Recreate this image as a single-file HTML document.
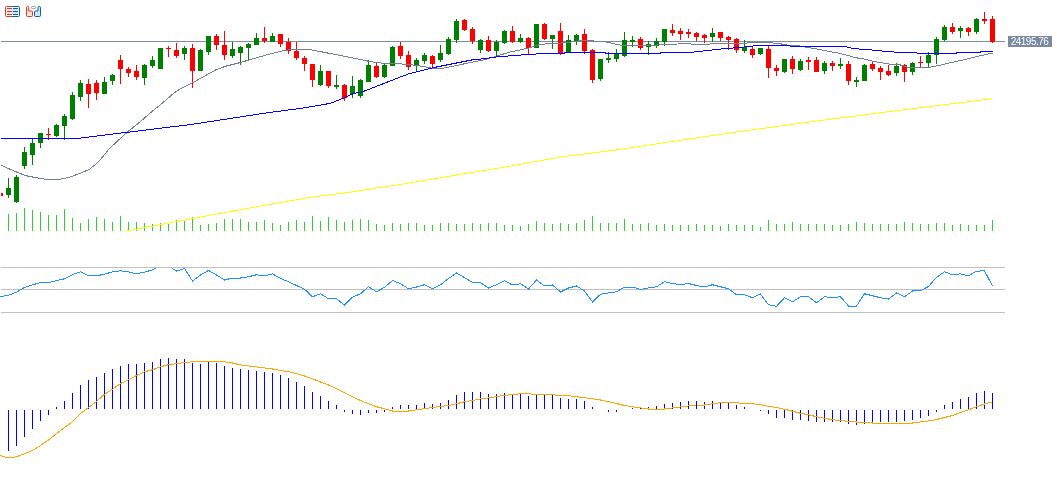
<!DOCTYPE html>
<html><head><meta charset="utf-8"><title>Chart</title>
<style>
html,body{margin:0;padding:0;background:#fff;}
body{width:1057px;height:484px;overflow:hidden;position:relative;font-family:"Liberation Sans",sans-serif;}
svg{position:absolute;left:0;top:0;display:block}
.lbl{position:absolute;left:1008px;top:36px;width:44px;height:11px;background:#7b8a9f;color:#fff;font-size:10px;line-height:11px;text-align:center;letter-spacing:-0.5px;box-sizing:border-box;padding-right:1px;white-space:nowrap;overflow:hidden}
</style></head><body>
<svg width="1057" height="484" viewBox="0 0 1057 484">
<rect x="1" y="41" width="1004" height="1" fill="#7f8da1" shape-rendering="crispEdges"/>
<g fill="#c0c0c0" shape-rendering="crispEdges"><rect x="1" y="267" width="1004" height="1"/><rect x="1" y="289" width="1004" height="1"/><rect x="1" y="312" width="1004" height="1"/></g>
<g fill="#32cd32" shape-rendering="crispEdges"><rect x="8" y="214" width="1" height="17"/><rect x="16" y="213" width="1" height="18"/><rect x="24" y="208" width="1" height="23"/><rect x="32" y="210" width="1" height="21"/><rect x="40" y="212" width="1" height="19"/><rect x="48" y="215" width="1" height="16"/><rect x="56" y="215" width="1" height="16"/><rect x="64" y="209" width="1" height="22"/><rect x="72" y="218" width="1" height="13"/><rect x="80" y="223" width="1" height="8"/><rect x="88" y="219" width="1" height="12"/><rect x="96" y="217" width="1" height="14"/><rect x="104" y="219" width="1" height="12"/><rect x="112" y="222" width="1" height="9"/><rect x="120" y="216" width="1" height="15"/><rect x="128" y="222" width="1" height="9"/><rect x="136" y="222" width="1" height="9"/><rect x="144" y="223" width="1" height="8"/><rect x="152" y="224" width="1" height="7"/><rect x="160" y="223" width="1" height="8"/><rect x="168" y="223" width="1" height="8"/><rect x="176" y="220" width="1" height="11"/><rect x="184" y="220" width="1" height="11"/><rect x="192" y="217" width="1" height="14"/><rect x="200" y="225" width="1" height="6"/><rect x="208" y="224" width="1" height="7"/><rect x="216" y="223" width="1" height="8"/><rect x="224" y="219" width="1" height="12"/><rect x="232" y="219" width="1" height="12"/><rect x="240" y="219" width="1" height="12"/><rect x="248" y="222" width="1" height="9"/><rect x="256" y="222" width="1" height="9"/><rect x="264" y="220" width="1" height="11"/><rect x="272" y="223" width="1" height="8"/><rect x="280" y="225" width="1" height="6"/><rect x="288" y="222" width="1" height="9"/><rect x="296" y="220" width="1" height="11"/><rect x="304" y="222" width="1" height="9"/><rect x="312" y="216" width="1" height="15"/><rect x="320" y="221" width="1" height="10"/><rect x="328" y="217" width="1" height="14"/><rect x="336" y="220" width="1" height="11"/><rect x="344" y="222" width="1" height="9"/><rect x="352" y="220" width="1" height="11"/><rect x="360" y="219" width="1" height="12"/><rect x="368" y="220" width="1" height="11"/><rect x="376" y="224" width="1" height="7"/><rect x="384" y="225" width="1" height="6"/><rect x="392" y="223" width="1" height="8"/><rect x="400" y="224" width="1" height="7"/><rect x="408" y="223" width="1" height="8"/><rect x="416" y="223" width="1" height="8"/><rect x="424" y="225" width="1" height="6"/><rect x="432" y="225" width="1" height="6"/><rect x="440" y="223" width="1" height="8"/><rect x="448" y="223" width="1" height="8"/><rect x="456" y="224" width="1" height="7"/><rect x="464" y="224" width="1" height="7"/><rect x="472" y="223" width="1" height="8"/><rect x="480" y="224" width="1" height="7"/><rect x="488" y="223" width="1" height="8"/><rect x="496" y="223" width="1" height="8"/><rect x="504" y="225" width="1" height="6"/><rect x="512" y="225" width="1" height="6"/><rect x="520" y="226" width="1" height="5"/><rect x="528" y="224" width="1" height="7"/><rect x="536" y="221" width="1" height="10"/><rect x="544" y="223" width="1" height="8"/><rect x="552" y="224" width="1" height="7"/><rect x="560" y="223" width="1" height="8"/><rect x="568" y="224" width="1" height="7"/><rect x="576" y="223" width="1" height="8"/><rect x="584" y="220" width="1" height="11"/><rect x="592" y="216" width="1" height="15"/><rect x="600" y="223" width="1" height="8"/><rect x="608" y="223" width="1" height="8"/><rect x="616" y="223" width="1" height="8"/><rect x="624" y="219" width="1" height="12"/><rect x="632" y="224" width="1" height="7"/><rect x="640" y="224" width="1" height="7"/><rect x="648" y="223" width="1" height="8"/><rect x="656" y="225" width="1" height="6"/><rect x="664" y="224" width="1" height="7"/><rect x="672" y="225" width="1" height="6"/><rect x="680" y="225" width="1" height="6"/><rect x="688" y="225" width="1" height="6"/><rect x="696" y="224" width="1" height="7"/><rect x="704" y="225" width="1" height="6"/><rect x="712" y="225" width="1" height="6"/><rect x="720" y="226" width="1" height="5"/><rect x="728" y="224" width="1" height="7"/><rect x="736" y="225" width="1" height="6"/><rect x="744" y="225" width="1" height="6"/><rect x="752" y="225" width="1" height="6"/><rect x="760" y="227" width="1" height="4"/><rect x="768" y="220" width="1" height="11"/><rect x="776" y="224" width="1" height="7"/><rect x="784" y="224" width="1" height="7"/><rect x="792" y="222" width="1" height="9"/><rect x="800" y="224" width="1" height="7"/><rect x="808" y="224" width="1" height="7"/><rect x="816" y="224" width="1" height="7"/><rect x="824" y="224" width="1" height="7"/><rect x="832" y="225" width="1" height="6"/><rect x="840" y="225" width="1" height="6"/><rect x="848" y="224" width="1" height="7"/><rect x="856" y="222" width="1" height="9"/><rect x="864" y="223" width="1" height="8"/><rect x="872" y="224" width="1" height="7"/><rect x="880" y="224" width="1" height="7"/><rect x="888" y="224" width="1" height="7"/><rect x="896" y="224" width="1" height="7"/><rect x="904" y="222" width="1" height="9"/><rect x="912" y="223" width="1" height="8"/><rect x="920" y="224" width="1" height="7"/><rect x="928" y="224" width="1" height="7"/><rect x="936" y="223" width="1" height="8"/><rect x="944" y="223" width="1" height="8"/><rect x="952" y="225" width="1" height="6"/><rect x="960" y="224" width="1" height="7"/><rect x="968" y="225" width="1" height="6"/><rect x="976" y="225" width="1" height="6"/><rect x="984" y="225" width="1" height="6"/><rect x="992" y="220" width="1" height="11"/></g>
<g fill="#008000" shape-rendering="crispEdges"><rect x="8" y="178" width="1" height="20"/><rect x="6" y="188" width="5" height="7"/><rect x="16" y="175" width="1" height="28"/><rect x="14" y="177" width="5" height="25"/><rect x="24" y="147" width="1" height="22"/><rect x="22" y="152" width="5" height="14"/><rect x="32" y="139" width="1" height="26"/><rect x="30" y="143" width="5" height="12"/><rect x="40" y="133" width="1" height="15"/><rect x="38" y="133" width="5" height="10"/><rect x="56" y="124" width="1" height="13"/><rect x="54" y="125" width="5" height="11"/><rect x="64" y="114" width="1" height="26"/><rect x="62" y="116" width="5" height="10"/><rect x="72" y="92" width="1" height="28"/><rect x="70" y="95" width="5" height="24"/><rect x="80" y="80" width="1" height="21"/><rect x="78" y="83" width="5" height="14"/><rect x="104" y="77" width="1" height="17"/><rect x="102" y="82" width="5" height="12"/><rect x="112" y="74" width="1" height="11"/><rect x="110" y="75" width="5" height="6"/><rect x="144" y="64" width="1" height="21"/><rect x="142" y="65" width="5" height="13"/><rect x="152" y="56" width="1" height="12"/><rect x="150" y="60" width="5" height="6"/><rect x="158" y="48" width="5" height="21"/><rect x="184" y="46" width="1" height="14"/><rect x="182" y="48" width="5" height="6"/><rect x="200" y="49" width="1" height="22"/><rect x="198" y="50" width="5" height="21"/><rect x="208" y="36" width="1" height="19"/><rect x="206" y="36" width="5" height="16"/><rect x="232" y="42" width="1" height="16"/><rect x="230" y="49" width="5" height="7"/><rect x="240" y="46" width="1" height="19"/><rect x="238" y="47" width="5" height="6"/><rect x="248" y="43" width="1" height="18"/><rect x="246" y="44" width="5" height="4"/><rect x="256" y="33" width="1" height="12"/><rect x="254" y="38" width="5" height="7"/><rect x="272" y="33" width="1" height="9"/><rect x="270" y="36" width="5" height="6"/><rect x="320" y="65" width="1" height="21"/><rect x="318" y="71" width="5" height="14"/><rect x="336" y="75" width="1" height="14"/><rect x="334" y="85" width="5" height="2"/><rect x="352" y="76" width="1" height="22"/><rect x="350" y="86" width="5" height="8"/><rect x="360" y="79" width="1" height="19"/><rect x="358" y="80" width="5" height="16"/><rect x="368" y="60" width="1" height="22"/><rect x="366" y="65" width="5" height="17"/><rect x="384" y="64" width="1" height="14"/><rect x="382" y="65" width="5" height="12"/><rect x="392" y="46" width="1" height="20"/><rect x="390" y="47" width="5" height="19"/><rect x="416" y="58" width="1" height="13"/><rect x="414" y="60" width="5" height="6"/><rect x="424" y="53" width="1" height="11"/><rect x="422" y="55" width="5" height="6"/><rect x="440" y="45" width="1" height="17"/><rect x="438" y="53" width="5" height="7"/><rect x="448" y="37" width="1" height="18"/><rect x="446" y="39" width="5" height="15"/><rect x="456" y="19" width="1" height="24"/><rect x="454" y="21" width="5" height="19"/><rect x="480" y="39" width="1" height="14"/><rect x="478" y="40" width="5" height="10"/><rect x="496" y="40" width="1" height="17"/><rect x="494" y="42" width="5" height="9"/><rect x="504" y="30" width="1" height="14"/><rect x="502" y="31" width="5" height="12"/><rect x="520" y="34" width="1" height="9"/><rect x="518" y="38" width="5" height="4"/><rect x="534" y="24" width="5" height="24"/><rect x="552" y="35" width="1" height="14"/><rect x="550" y="35" width="5" height="4"/><rect x="568" y="35" width="1" height="18"/><rect x="566" y="40" width="5" height="13"/><rect x="576" y="34" width="1" height="11"/><rect x="574" y="35" width="5" height="6"/><rect x="600" y="59" width="1" height="22"/><rect x="598" y="59" width="5" height="20"/><rect x="608" y="52" width="1" height="11"/><rect x="606" y="58" width="5" height="2"/><rect x="616" y="49" width="1" height="13"/><rect x="614" y="54" width="5" height="5"/><rect x="624" y="32" width="1" height="25"/><rect x="622" y="40" width="5" height="16"/><rect x="632" y="36" width="1" height="11"/><rect x="630" y="40" width="5" height="2"/><rect x="648" y="41" width="1" height="14"/><rect x="646" y="44" width="5" height="3"/><rect x="656" y="38" width="1" height="10"/><rect x="654" y="41" width="5" height="5"/><rect x="664" y="29" width="1" height="17"/><rect x="662" y="29" width="5" height="13"/><rect x="712" y="28" width="1" height="14"/><rect x="710" y="33" width="5" height="4"/><rect x="744" y="40" width="1" height="13"/><rect x="742" y="47" width="5" height="4"/><rect x="760" y="48" width="1" height="7"/><rect x="758" y="48" width="5" height="6"/><rect x="784" y="59" width="1" height="14"/><rect x="782" y="59" width="5" height="13"/><rect x="800" y="59" width="1" height="12"/><rect x="798" y="61" width="5" height="9"/><rect x="824" y="61" width="1" height="13"/><rect x="822" y="63" width="5" height="8"/><rect x="840" y="58" width="1" height="11"/><rect x="838" y="64" width="5" height="2"/><rect x="856" y="77" width="1" height="10"/><rect x="854" y="80" width="5" height="2"/><rect x="864" y="64" width="1" height="17"/><rect x="862" y="65" width="5" height="16"/><rect x="896" y="63" width="1" height="13"/><rect x="894" y="66" width="5" height="7"/><rect x="912" y="62" width="1" height="13"/><rect x="910" y="63" width="5" height="9"/><rect x="928" y="52" width="1" height="15"/><rect x="926" y="55" width="5" height="8"/><rect x="936" y="37" width="1" height="27"/><rect x="934" y="39" width="5" height="16"/><rect x="944" y="25" width="1" height="16"/><rect x="942" y="27" width="5" height="13"/><rect x="960" y="26" width="1" height="12"/><rect x="958" y="28" width="5" height="3"/><rect x="976" y="18" width="1" height="16"/><rect x="974" y="19" width="5" height="13"/></g>
<g fill="#ff0000" shape-rendering="crispEdges"><rect x="1" y="193" width="2" height="3"/><rect x="48" y="128" width="1" height="12"/><rect x="46" y="134" width="5" height="1"/><rect x="88" y="79" width="1" height="29"/><rect x="86" y="84" width="5" height="10"/><rect x="96" y="80" width="1" height="20"/><rect x="94" y="83" width="5" height="10"/><rect x="120" y="55" width="1" height="29"/><rect x="118" y="60" width="5" height="9"/><rect x="128" y="67" width="1" height="10"/><rect x="126" y="69" width="5" height="4"/><rect x="136" y="65" width="1" height="15"/><rect x="134" y="71" width="5" height="6"/><rect x="168" y="46" width="1" height="11"/><rect x="166" y="48" width="5" height="1"/><rect x="176" y="43" width="1" height="15"/><rect x="174" y="50" width="5" height="6"/><rect x="192" y="44" width="1" height="44"/><rect x="190" y="48" width="5" height="23"/><rect x="216" y="34" width="1" height="16"/><rect x="214" y="36" width="5" height="9"/><rect x="224" y="31" width="1" height="29"/><rect x="222" y="45" width="5" height="10"/><rect x="264" y="27" width="1" height="16"/><rect x="262" y="38" width="5" height="3"/><rect x="280" y="34" width="1" height="13"/><rect x="278" y="34" width="5" height="10"/><rect x="288" y="38" width="1" height="16"/><rect x="286" y="42" width="5" height="9"/><rect x="296" y="42" width="1" height="18"/><rect x="294" y="51" width="5" height="7"/><rect x="304" y="56" width="1" height="15"/><rect x="302" y="58" width="5" height="6"/><rect x="312" y="64" width="1" height="23"/><rect x="310" y="64" width="5" height="16"/><rect x="328" y="71" width="1" height="17"/><rect x="326" y="71" width="5" height="15"/><rect x="344" y="84" width="1" height="17"/><rect x="342" y="85" width="5" height="13"/><rect x="376" y="63" width="1" height="15"/><rect x="374" y="66" width="5" height="11"/><rect x="400" y="42" width="1" height="17"/><rect x="398" y="46" width="5" height="10"/><rect x="408" y="51" width="1" height="19"/><rect x="406" y="55" width="5" height="12"/><rect x="432" y="55" width="1" height="12"/><rect x="430" y="56" width="5" height="8"/><rect x="464" y="19" width="1" height="12"/><rect x="462" y="20" width="5" height="10"/><rect x="472" y="27" width="1" height="17"/><rect x="470" y="29" width="5" height="12"/><rect x="488" y="36" width="1" height="16"/><rect x="486" y="40" width="5" height="11"/><rect x="512" y="26" width="1" height="17"/><rect x="510" y="31" width="5" height="11"/><rect x="528" y="37" width="1" height="18"/><rect x="526" y="38" width="5" height="10"/><rect x="544" y="23" width="1" height="17"/><rect x="542" y="24" width="5" height="15"/><rect x="560" y="23" width="1" height="32"/><rect x="558" y="31" width="5" height="22"/><rect x="584" y="29" width="1" height="25"/><rect x="582" y="34" width="5" height="17"/><rect x="592" y="49" width="1" height="34"/><rect x="590" y="50" width="5" height="30"/><rect x="640" y="37" width="1" height="13"/><rect x="638" y="39" width="5" height="9"/><rect x="672" y="24" width="1" height="12"/><rect x="670" y="30" width="5" height="3"/><rect x="680" y="28" width="1" height="12"/><rect x="678" y="31" width="5" height="3"/><rect x="688" y="29" width="1" height="9"/><rect x="686" y="32" width="5" height="2"/><rect x="696" y="32" width="1" height="9"/><rect x="694" y="33" width="5" height="4"/><rect x="704" y="34" width="1" height="9"/><rect x="702" y="35" width="5" height="3"/><rect x="720" y="32" width="1" height="9"/><rect x="718" y="32" width="5" height="6"/><rect x="728" y="36" width="1" height="14"/><rect x="726" y="37" width="5" height="3"/><rect x="736" y="38" width="1" height="15"/><rect x="734" y="39" width="5" height="11"/><rect x="752" y="46" width="1" height="12"/><rect x="750" y="49" width="5" height="6"/><rect x="768" y="46" width="1" height="32"/><rect x="766" y="49" width="5" height="19"/><rect x="776" y="65" width="1" height="11"/><rect x="774" y="68" width="5" height="3"/><rect x="792" y="56" width="1" height="18"/><rect x="790" y="59" width="5" height="10"/><rect x="808" y="57" width="1" height="13"/><rect x="806" y="60" width="5" height="2"/><rect x="816" y="57" width="1" height="15"/><rect x="814" y="60" width="5" height="12"/><rect x="832" y="61" width="1" height="10"/><rect x="830" y="63" width="5" height="3"/><rect x="848" y="61" width="1" height="24"/><rect x="846" y="64" width="5" height="17"/><rect x="872" y="62" width="1" height="9"/><rect x="870" y="64" width="5" height="5"/><rect x="880" y="66" width="1" height="14"/><rect x="878" y="68" width="5" height="4"/><rect x="888" y="65" width="1" height="11"/><rect x="886" y="71" width="5" height="4"/><rect x="904" y="64" width="1" height="18"/><rect x="902" y="65" width="5" height="7"/><rect x="920" y="56" width="1" height="11"/><rect x="918" y="62" width="5" height="1"/><rect x="952" y="23" width="1" height="11"/><rect x="950" y="27" width="5" height="5"/><rect x="968" y="27" width="1" height="9"/><rect x="966" y="28" width="5" height="4"/><rect x="984" y="12" width="1" height="12"/><rect x="982" y="19" width="5" height="2"/><rect x="992" y="16" width="1" height="27"/><rect x="990" y="19" width="5" height="23"/></g>
<polyline points="125,231.25 193,218.5 256.5,206.75 306.5,198 356.5,191.25 406.5,183.5 456.5,175 506.5,166.75 562.5,156.75 612.5,150.5 662.5,143 712.5,135.5 747.5,130.5 813.5,121.5 868.5,114.25 918.5,108 968.5,101.75 992.5,98.75" fill="none" stroke="#ffff00" stroke-width="1" shape-rendering="crispEdges"/>
<polyline points="1.5,165.4 13,170.6 25.5,175.6 38,178.1 46.5,179.4 59.5,179.4 70.5,176.9 80.5,173.1 89.25,169.4 95.5,164.4 100.5,159.4 109.25,148.75 118,140.6 128,131.5 140.5,121.5 150.5,112.8 166.75,99.4 173,93.75 180.5,88.75 193,82.5 204.25,76.25 215.5,70 225.5,66.25 240.5,62.5 255.5,58.1 270.5,53.75 284.5,50.4 293.25,49.4 308.25,49.4 322,51.9 334.5,54.4 347,56.9 359.5,59.4 372,61.9 384.5,63.5 397,63.75 409,64.4 421.5,66.25 431.5,68.1 444,68.1 459,65 471.5,62.25 484,59.75 496.5,56.25 509,52.25 528.5,48.1 540.5,44.4 548,43.75 565.5,42.75 581.5,40.6 588,40.6 605.5,41.9 621.5,45.4 640.5,45.6 653,45.6 660.5,44.5 684.5,43.8 700.5,44.3 716.5,43.8 735.5,43.5 747.5,43 760.5,42.5 772.5,43 781.5,44 788.5,45.25 797.5,45.6 806,47.25 819.5,49.4 829.5,51.5 838.5,53.1 848.5,55.6 856,57.75 866,59.4 876,61.9 888.5,64 898.5,64.4 908,67.25 929.5,67.25 938,65.6 950.5,62.75 963,60 975.5,56.9 988,54 992.5,53.1" fill="none" stroke="#708090" stroke-width="1" shape-rendering="crispEdges"/>
<polyline points="0.5,138.5 76.5,138.5 192.5,124.3 264.5,113.2 305.5,107.7 330.5,103.3 343,98.3 353.5,93.5 361.75,92.1 380.5,84.8 396.5,78.5 409,73.75 421.5,70.6 434,67.5 446.5,65 459,62.5 471.5,60 484,58.75 496.5,56.9 516.5,55.3 528.5,54.5 540.5,53.7 563.5,53.5 565.5,52.5 604.5,52.5 606.5,53.5 659.5,53.5 661.5,52.5 691.5,52.25 708,50.4 716.5,49.6 725.5,48.5 740.5,47.5 748,46.5 756.5,45.6 788.5,45.6 790.5,46.25 844.5,46.25 848.5,47.5 853.5,48.5 862.5,49.4 877.5,50.4 886,51.5 901,52.5 916.5,52.8 918.5,53.5 955.5,53.5 957.5,52.5 979.5,52.5 981.5,51.5 992.5,51.5" fill="none" stroke="#0000ff" stroke-width="1" shape-rendering="crispEdges"/>
<clipPath id="rc"><rect x="0" y="268" width="1057" height="60"/></clipPath><polyline points="0.5,296.8 8.5,295.2 16.5,292.2 24.5,287.5 32.5,284.8 40.5,282.7 48.5,282.7 56.5,280.5 64.5,278.8 72.5,274.7 80.5,271.8 88.5,275.8 96.5,275.8 104.5,274.2 112.5,271.8 120.5,270.8 128.5,271.8 136.5,273.8 144.5,272.2 152.5,269.8 160.5,266 168.5,266 176.5,271 184.5,268.5 192.5,281 200.5,275 208.5,270.5 216.5,275 224.5,280 232.5,278 240.5,278 248.5,276.75 256.5,274.75 264.5,276 272.5,273.75 280.5,278.5 288.5,281.75 296.5,285.5 304.5,289.25 312.5,296.75 320.5,293.75 328.5,298.75 336.5,298.75 344.5,305 352.5,297.25 360.5,293.75 368.5,286.75 376.5,291.75 384.5,287.25 392.5,280.5 400.5,283.75 408.5,288.75 416.5,287 424.5,284.75 432.5,288.75 440.5,284.75 448.5,278.5 456.5,273 464.5,277.5 472.5,282.5 480.5,282.75 488.5,288 496.5,284.75 504.5,280.75 512.5,285 520.5,283.75 528.5,289 536.5,280 544.5,286 552.5,285 560.5,292 568.5,288 576.5,286 584.5,291 592.5,302 600.5,294.25 608.5,293 616.5,291.75 624.5,287 632.5,287 640.5,289.5 648.5,288 656.5,286.75 664.5,281.75 672.5,283.5 680.5,284.75 688.5,283.5 696.5,285.5 704.5,287 712.5,284.75 720.5,286.75 728.5,288.75 736.5,294.75 744.5,294.75 752.5,297.75 760.5,294 768.5,304.75 776.5,306.25 784.5,297.75 792.5,301.75 800.5,296.75 808.5,296.75 816.5,302.75 824.5,296.75 832.5,297.75 840.5,296.75 848.5,306 856.5,306 864.5,293.75 872.5,295.75 880.5,297.75 888.5,299.1 896.5,292.9 904.5,296.7 912.5,291 920.5,290.8 928.5,286.4 936.5,277.4 944.5,271.8 952.5,274.8 960.5,273.8 968.5,275.8 976.5,271.2 984.5,270.8 992.5,286" fill="none" stroke="#1e90ff" stroke-width="1" shape-rendering="crispEdges" clip-path="url(#rc)"/>
<g fill="#0000ff" shape-rendering="crispEdges"><rect x="8" y="410" width="1" height="41"/><rect x="16" y="410" width="1" height="36"/><rect x="24" y="410" width="1" height="27"/><rect x="32" y="410" width="1" height="19"/><rect x="40" y="410" width="1" height="11"/><rect x="48" y="410" width="1" height="5"/><rect x="56" y="407" width="1" height="2"/><rect x="64" y="401" width="1" height="8"/><rect x="72" y="393" width="1" height="16"/><rect x="80" y="385" width="1" height="24"/><rect x="88" y="380" width="1" height="29"/><rect x="96" y="377" width="1" height="32"/><rect x="104" y="373" width="1" height="36"/><rect x="112" y="369" width="1" height="40"/><rect x="120" y="366" width="1" height="43"/><rect x="128" y="364" width="1" height="45"/><rect x="136" y="364" width="1" height="45"/><rect x="144" y="363" width="1" height="46"/><rect x="152" y="362" width="1" height="47"/><rect x="160" y="359" width="1" height="50"/><rect x="168" y="358" width="1" height="51"/><rect x="176" y="359" width="1" height="50"/><rect x="184" y="359" width="1" height="50"/><rect x="192" y="363" width="1" height="46"/><rect x="200" y="364" width="1" height="45"/><rect x="208" y="362" width="1" height="47"/><rect x="216" y="363" width="1" height="46"/><rect x="224" y="366" width="1" height="43"/><rect x="232" y="368" width="1" height="41"/><rect x="240" y="369" width="1" height="40"/><rect x="248" y="370" width="1" height="39"/><rect x="256" y="371" width="1" height="38"/><rect x="264" y="372" width="1" height="37"/><rect x="272" y="373" width="1" height="36"/><rect x="280" y="375" width="1" height="34"/><rect x="288" y="378" width="1" height="31"/><rect x="296" y="382" width="1" height="27"/><rect x="304" y="386" width="1" height="23"/><rect x="312" y="392" width="1" height="17"/><rect x="320" y="396" width="1" height="13"/><rect x="328" y="401" width="1" height="8"/><rect x="336" y="405" width="1" height="4"/><rect x="344" y="410" width="1" height="2"/><rect x="352" y="410" width="1" height="4"/><rect x="360" y="410" width="1" height="5"/><rect x="368" y="410" width="1" height="3"/><rect x="376" y="410" width="1" height="3"/><rect x="384" y="410" width="1" height="2"/><rect x="392" y="407" width="1" height="2"/><rect x="400" y="405" width="1" height="4"/><rect x="408" y="405" width="1" height="4"/><rect x="416" y="405" width="1" height="4"/><rect x="424" y="403" width="1" height="6"/><rect x="432" y="404" width="1" height="5"/><rect x="440" y="403" width="1" height="6"/><rect x="448" y="400" width="1" height="9"/><rect x="456" y="395" width="1" height="14"/><rect x="464" y="392" width="1" height="17"/><rect x="472" y="392" width="1" height="17"/><rect x="480" y="392" width="1" height="17"/><rect x="488" y="394" width="1" height="15"/><rect x="496" y="394" width="1" height="15"/><rect x="504" y="393" width="1" height="16"/><rect x="512" y="394" width="1" height="15"/><rect x="520" y="394" width="1" height="15"/><rect x="528" y="396" width="1" height="13"/><rect x="536" y="395" width="1" height="14"/><rect x="544" y="395" width="1" height="14"/><rect x="552" y="395" width="1" height="14"/><rect x="560" y="398" width="1" height="11"/><rect x="568" y="399" width="1" height="10"/><rect x="576" y="399" width="1" height="10"/><rect x="584" y="401" width="1" height="8"/><rect x="592" y="407" width="1" height="2"/><rect x="608" y="410" width="1" height="2"/><rect x="616" y="410" width="1" height="2"/><rect x="632" y="408" width="1" height="1"/><rect x="640" y="408" width="1" height="1"/><rect x="648" y="407" width="1" height="2"/><rect x="656" y="406" width="1" height="3"/><rect x="664" y="404" width="1" height="5"/><rect x="672" y="403" width="1" height="6"/><rect x="680" y="402" width="1" height="7"/><rect x="688" y="401" width="1" height="8"/><rect x="696" y="401" width="1" height="8"/><rect x="704" y="402" width="1" height="7"/><rect x="712" y="401" width="1" height="8"/><rect x="720" y="402" width="1" height="7"/><rect x="728" y="403" width="1" height="6"/><rect x="736" y="405" width="1" height="4"/><rect x="744" y="407" width="1" height="2"/><rect x="760" y="410" width="1" height="1"/><rect x="768" y="410" width="1" height="4"/><rect x="776" y="410" width="1" height="8"/><rect x="784" y="410" width="1" height="8"/><rect x="792" y="410" width="1" height="10"/><rect x="800" y="410" width="1" height="10"/><rect x="808" y="410" width="1" height="11"/><rect x="816" y="410" width="1" height="12"/><rect x="824" y="410" width="1" height="12"/><rect x="832" y="410" width="1" height="12"/><rect x="840" y="410" width="1" height="12"/><rect x="848" y="410" width="1" height="14"/><rect x="856" y="410" width="1" height="15"/><rect x="864" y="410" width="1" height="14"/><rect x="872" y="410" width="1" height="12"/><rect x="880" y="410" width="1" height="12"/><rect x="888" y="410" width="1" height="12"/><rect x="896" y="410" width="1" height="12"/><rect x="904" y="410" width="1" height="11"/><rect x="912" y="410" width="1" height="10"/><rect x="920" y="410" width="1" height="8"/><rect x="928" y="410" width="1" height="6"/><rect x="936" y="410" width="1" height="2"/><rect x="944" y="405" width="1" height="4"/><rect x="952" y="402" width="1" height="7"/><rect x="960" y="399" width="1" height="10"/><rect x="968" y="397" width="1" height="12"/><rect x="976" y="393" width="1" height="16"/><rect x="984" y="391" width="1" height="18"/><rect x="992" y="393" width="1" height="16"/></g>
<polyline points="0.5,455.5 8.5,458 16.5,456.75 24.5,453.75 32.5,450.5 40.5,445.5 48.5,440 56.5,433.5 64.5,427.5 72.5,421.75 80.5,413.5 88.5,407.5 96.5,401.5 104.5,394.25 112.5,389.25 120.5,383.5 128.5,379.75 136.5,375.5 144.5,371.75 152.5,369.75 160.5,366.75 168.5,364.75 176.5,363.75 184.5,362.5 192.5,361.75 200.5,361.75 208.5,361.75 216.5,361.75 224.5,361.75 232.5,363 240.5,365 248.5,366 256.5,367 264.5,368 272.5,369 280.5,370.5 288.5,371.75 296.5,373.5 304.5,376 312.5,378.75 320.5,382 328.5,385 336.5,388.75 344.5,392.75 352.5,396.75 360.5,400.5 368.5,403.75 376.5,406.75 384.5,408.75 392.5,411 400.5,411 408.5,411 416.5,409.75 424.5,408.75 432.5,407.5 440.5,406.5 448.5,405.5 456.5,403.75 464.5,401.75 472.5,400.5 480.5,399 488.5,398 496.5,396.5 504.5,395.5 512.5,394.5 520.5,393.75 528.5,393.75 536.5,394.75 544.5,394.75 552.5,394.75 560.5,395.75 568.5,395.75 576.5,396.75 584.5,397.75 592.5,398.75 600.5,400 608.5,401.75 616.5,403.5 624.5,405.5 632.5,406.75 640.5,408 648.5,409 656.5,409 664.5,409 672.5,408 680.5,407 688.5,406 696.5,405 704.5,405 712.5,403.75 720.5,402.75 728.5,402.75 736.5,402.75 744.5,403.75 752.5,403.75 760.5,404.75 768.5,406.25 776.5,407.5 784.5,409.25 792.5,411.25 800.5,413.25 808.5,414.75 816.5,416.75 824.5,418.25 832.5,419.75 840.5,420.75 848.5,421.25 856.5,422 864.5,422 872.5,423 880.5,423 888.5,423 896.5,423 904.5,423 912.5,423 920.5,422 928.5,421 936.5,419.5 944.5,417.5 952.5,415.5 960.5,412.5 968.5,409.75 976.5,406.75 984.5,404 992.5,401.75" fill="none" stroke="#ffa500" stroke-width="1" shape-rendering="crispEdges"/>
<g>
<rect x="7" y="8" width="5" height="7" fill="#fde0d6"/><rect x="12" y="8" width="6" height="7" fill="#c8e6fc"/>
<path d="M12 6.5H6.700a1.200 1.200 0 0 0-1.200 1.200V15.300a1.200 1.200 0 0 0 1.200 1.200H12" fill="none" stroke="#d63a2f" stroke-width="1"/>
<path d="M12 6.5H18.300a1.200 1.200 0 0 1 1.200 1.200V15.300a1.200 1.200 0 0 1-1.200 1.200H12" fill="none" stroke="#0f5fa8" stroke-width="1"/>
<g fill="#d63a2f" shape-rendering="crispEdges"><rect x="7" y="8" width="5" height="1"/><rect x="7" y="11" width="5" height="1"/><rect x="7" y="14" width="5" height="1"/></g>
<g fill="#0f5fa8" shape-rendering="crispEdges"><rect x="13" y="8" width="5" height="1"/><rect x="13" y="11" width="5" height="1"/><rect x="13" y="14" width="5" height="1"/></g>
<path d="M27.300 6.5H27.950a0.800 0.800 0 0 1 0.800 0.800V11H31.5a1 1 0 0 1 1 1V15.5a1 1 0 0 1-1 1H27.5a1 1 0 0 1-1-1V7.5a1 1 0 0 1 1-1z" fill="#fde0d6" stroke="#d63a2f" stroke-width="1"/>
<path d="M39 6.5H39.5a1 1 0 0 1 1 1V15.5a1 1 0 0 1-1 1H35.5a1 1 0 0 1-1-1V12a1 1 0 0 1 1-1H38V7.5a1 1 0 0 1 1-1z" fill="#c8e6fc" stroke="#0f5fa8" stroke-width="1"/>
<rect x="31.500" y="6.500" width="4" height="2" rx="0.700" fill="#fff" stroke="#a3a3a3" stroke-width="1"/>
</g>
</svg>
<div class="lbl">24195.76</div>
</body></html>
